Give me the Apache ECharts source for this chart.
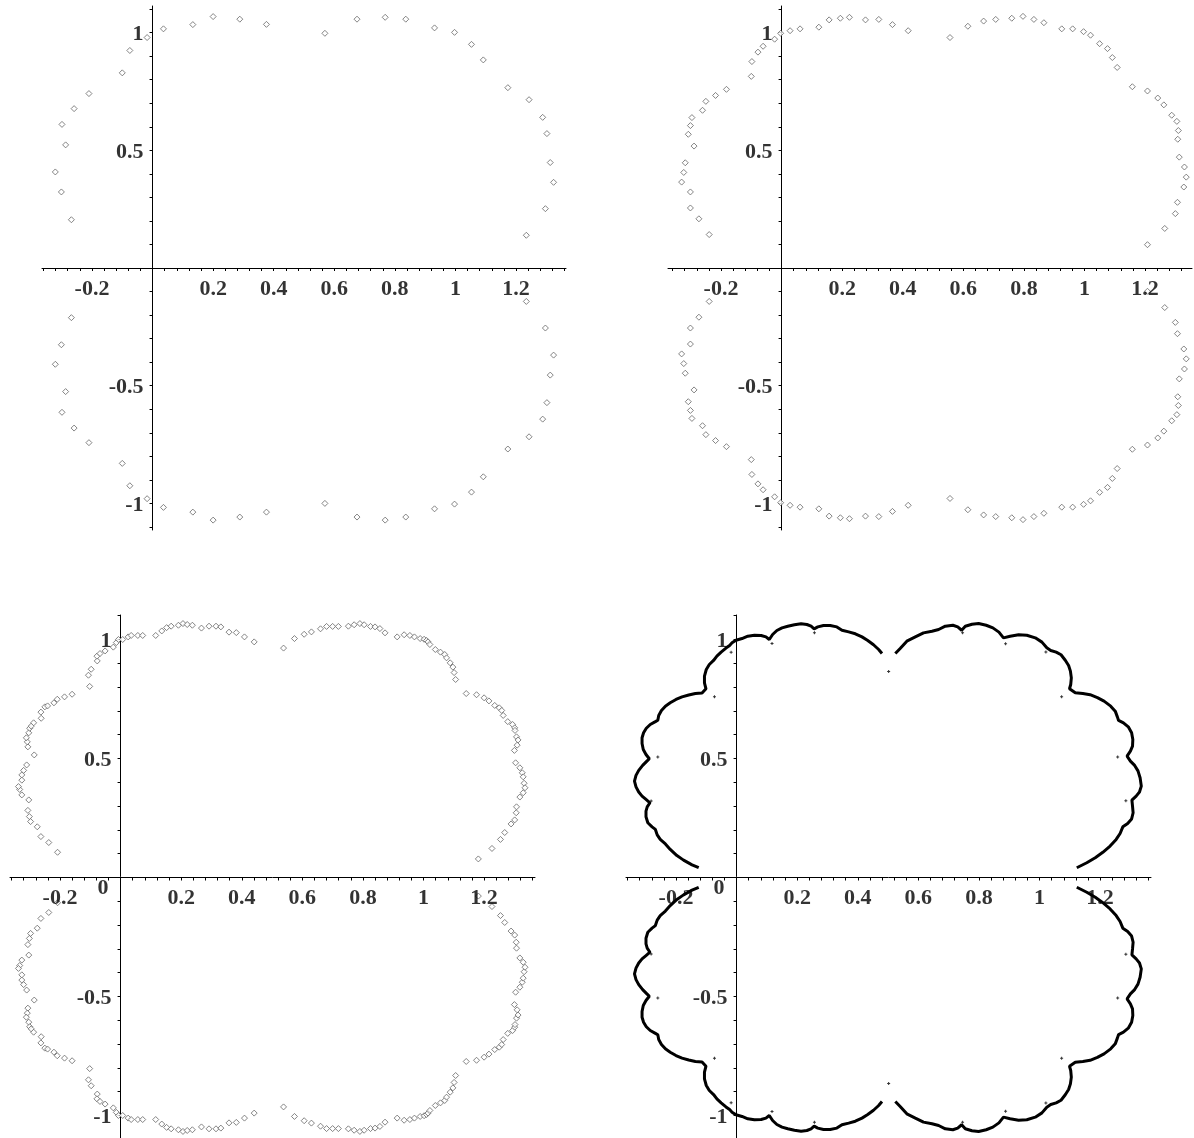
<!DOCTYPE html>
<html><head><meta charset="utf-8">
<script src="https://cdn.jsdelivr.net/npm/echarts@6/dist/echarts.min.js"></script>
<style>html,body{margin:0;padding:0;background:#fff}#c{width:1194px;height:1138px}</style>
</head><body><div id="c"></div>
<script>
// ---- tick labels ----
const xLabelVals = [-0.2, 0.2, 0.4, 0.6, 0.8, 1, 1.2];
const yLabelVals = [-1, -0.5, 0.5, 1];

// ---- panel 1 (coarse points) ----
const p1Upper = [[-0.268,0.205],[-0.301,0.323],[-0.321,0.408],[-0.287,0.523],[-0.299,0.610],[-0.259,0.677],[-0.210,0.741],[-0.100,0.829],[-0.075,0.924],[-0.018,0.979],[0.036,1.016],[0.133,1.034],[0.200,1.068],[0.288,1.057],[0.376,1.035],[0.569,0.997],[0.675,1.057],[0.768,1.065],[0.836,1.057],[0.931,1.020],[0.997,1.001],[1.053,0.950],[1.092,0.884],[1.173,0.766],[1.243,0.715],[1.288,0.640],[1.302,0.571],[1.313,0.448],[1.324,0.364],[1.297,0.252],[1.234,0.139]];
const p1Lower = [[-0.268,-0.211],[-0.301,-0.326],[-0.321,-0.409],[-0.287,-0.525],[-0.299,-0.613],[-0.259,-0.680],[-0.210,-0.742],[-0.100,-0.830],[-0.075,-0.925],[-0.018,-0.980],[0.036,-1.017],[0.133,-1.037],[0.200,-1.071],[0.288,-1.058],[0.376,-1.037],[0.569,-1.000],[0.675,-1.058],[0.768,-1.071],[0.836,-1.058],[0.931,-1.023],[0.997,-1.003],[1.053,-0.952],[1.092,-0.887],[1.173,-0.769],[1.243,-0.717],[1.288,-0.642],[1.302,-0.572],[1.313,-0.455],[1.324,-0.370],[1.297,-0.255],[1.234,-0.142]];

// ---- panel 2 ----
const p2Upper = [[-0.239,0.142],[-0.273,0.209],[-0.301,0.255],[-0.301,0.323],[-0.330,0.365],[-0.323,0.406],[-0.318,0.447],[-0.289,0.518],[-0.308,0.568],[-0.301,0.605],[-0.296,0.639],[-0.261,0.670],[-0.250,0.708],[-0.218,0.733],[-0.182,0.759],[-0.100,0.814],[-0.098,0.877],[-0.078,0.917],[-0.061,0.942],[-0.023,0.972],[-0.003,0.997],[0.028,1.008],[0.061,1.016],[0.123,1.023],[0.157,1.054],[0.194,1.061],[0.224,1.065],[0.277,1.054],[0.321,1.056],[0.366,1.034],[0.418,1.008],[0.556,0.979],[0.615,1.027],[0.667,1.049],[0.707,1.056],[0.760,1.061],[0.797,1.069],[0.833,1.056],[0.866,1.042],[0.925,1.016],[0.961,1.016],[0.997,1.004],[1.020,0.989],[1.050,0.953],[1.076,0.932],[1.092,0.894],[1.108,0.852],[1.158,0.770],[1.208,0.752],[1.242,0.722],[1.262,0.693],[1.288,0.649],[1.305,0.623],[1.310,0.584],[1.308,0.547],[1.313,0.471],[1.330,0.429],[1.336,0.386],[1.328,0.344],[1.307,0.279],[1.300,0.231],[1.265,0.168],[1.208,0.099]];
const p2Lower = [[-0.239,-0.142],[-0.273,-0.209],[-0.301,-0.255],[-0.301,-0.323],[-0.330,-0.365],[-0.323,-0.406],[-0.318,-0.447],[-0.289,-0.518],[-0.308,-0.568],[-0.301,-0.605],[-0.296,-0.639],[-0.261,-0.670],[-0.250,-0.708],[-0.218,-0.733],[-0.182,-0.759],[-0.100,-0.814],[-0.098,-0.877],[-0.078,-0.917],[-0.061,-0.942],[-0.023,-0.972],[-0.003,-0.997],[0.028,-1.008],[0.061,-1.016],[0.123,-1.023],[0.157,-1.054],[0.194,-1.061],[0.224,-1.065],[0.277,-1.054],[0.321,-1.056],[0.366,-1.034],[0.418,-1.008],[0.556,-0.979],[0.615,-1.027],[0.667,-1.049],[0.707,-1.056],[0.760,-1.061],[0.797,-1.069],[0.833,-1.056],[0.866,-1.042],[0.925,-1.016],[0.961,-1.016],[0.997,-1.004],[1.020,-0.989],[1.050,-0.953],[1.076,-0.932],[1.092,-0.894],[1.108,-0.852],[1.158,-0.770],[1.208,-0.752],[1.242,-0.722],[1.262,-0.693],[1.288,-0.649],[1.305,-0.623],[1.310,-0.584],[1.308,-0.547],[1.313,-0.471],[1.330,-0.429],[1.336,-0.386],[1.328,-0.344],[1.307,-0.279],[1.300,-0.231],[1.265,-0.168],[1.208,-0.099]];

// ---- panel 3 ----
const p3Upper = [[-0.208,0.106],[-0.237,0.147],[-0.263,0.172],[-0.275,0.213],[-0.297,0.235],[-0.301,0.256],[-0.306,0.282],[-0.303,0.326],[-0.326,0.347],[-0.333,0.370],[-0.337,0.382],[-0.326,0.409],[-0.326,0.431],[-0.320,0.450],[-0.310,0.473],[-0.285,0.515],[-0.306,0.549],[-0.308,0.570],[-0.311,0.587],[-0.303,0.608],[-0.300,0.627],[-0.295,0.636],[-0.287,0.650],[-0.262,0.669],[-0.263,0.695],[-0.250,0.717],[-0.241,0.721],[-0.220,0.734],[-0.209,0.749],[-0.185,0.759],[-0.160,0.770],[-0.102,0.803],[-0.106,0.850],[-0.097,0.875],[-0.077,0.910],[-0.078,0.930],[-0.068,0.941],[-0.051,0.952],[-0.024,0.968],[-0.014,0.987],[-0.007,1.000],[0.007,1.000],[0.025,1.011],[0.035,1.017],[0.057,1.017],[0.073,1.017],[0.116,1.017],[0.136,1.036],[0.152,1.050],[0.167,1.056],[0.191,1.060],[0.206,1.067],[0.220,1.063],[0.237,1.060],[0.267,1.048],[0.292,1.056],[0.315,1.056],[0.331,1.053],[0.358,1.031],[0.382,1.029],[0.409,1.011],[0.441,0.990],[0.538,0.964],[0.574,1.004],[0.606,1.022],[0.630,1.032],[0.660,1.045],[0.680,1.055],[0.700,1.055],[0.719,1.055],[0.752,1.056],[0.771,1.062],[0.790,1.067],[0.804,1.062],[0.825,1.055],[0.840,1.053],[0.856,1.046],[0.873,1.028],[0.913,1.011],[0.936,1.020],[0.955,1.017],[0.970,1.011],[0.989,1.004],[1.002,1.001],[1.010,0.996],[1.015,0.990],[1.021,0.979],[1.039,0.958],[1.056,0.947],[1.070,0.937],[1.076,0.923],[1.088,0.902],[1.097,0.884],[1.101,0.861],[1.106,0.832],[1.141,0.773],[1.175,0.768],[1.200,0.755],[1.216,0.742],[1.235,0.723],[1.250,0.713],[1.258,0.702],[1.263,0.681],[1.278,0.655],[1.294,0.643],[1.301,0.629],[1.302,0.618],[1.307,0.591],[1.312,0.578],[1.309,0.556],[1.300,0.534],[1.304,0.482],[1.318,0.461],[1.326,0.440],[1.329,0.423],[1.332,0.396],[1.335,0.377],[1.329,0.356],[1.318,0.338],[1.307,0.297],[1.306,0.272],[1.301,0.242],[1.289,0.225],[1.268,0.189],[1.254,0.160],[1.226,0.122],[1.181,0.078]];
const p3Lower = [[-0.208,-0.106],[-0.237,-0.147],[-0.263,-0.172],[-0.275,-0.213],[-0.297,-0.235],[-0.301,-0.256],[-0.306,-0.282],[-0.303,-0.326],[-0.326,-0.347],[-0.333,-0.370],[-0.337,-0.382],[-0.326,-0.409],[-0.326,-0.431],[-0.320,-0.450],[-0.310,-0.473],[-0.285,-0.515],[-0.306,-0.549],[-0.308,-0.570],[-0.311,-0.587],[-0.303,-0.608],[-0.300,-0.627],[-0.295,-0.636],[-0.287,-0.650],[-0.262,-0.669],[-0.263,-0.695],[-0.250,-0.717],[-0.241,-0.721],[-0.220,-0.734],[-0.209,-0.749],[-0.185,-0.759],[-0.160,-0.770],[-0.102,-0.803],[-0.106,-0.850],[-0.097,-0.875],[-0.077,-0.910],[-0.078,-0.930],[-0.068,-0.941],[-0.051,-0.952],[-0.024,-0.968],[-0.014,-0.987],[-0.007,-1.000],[0.007,-1.000],[0.025,-1.011],[0.035,-1.017],[0.057,-1.017],[0.073,-1.017],[0.116,-1.017],[0.136,-1.036],[0.152,-1.050],[0.167,-1.056],[0.191,-1.060],[0.206,-1.067],[0.220,-1.063],[0.237,-1.060],[0.267,-1.048],[0.292,-1.056],[0.315,-1.056],[0.331,-1.053],[0.358,-1.031],[0.382,-1.029],[0.409,-1.011],[0.441,-0.990],[0.538,-0.964],[0.574,-1.004],[0.606,-1.022],[0.630,-1.032],[0.660,-1.045],[0.680,-1.055],[0.700,-1.055],[0.719,-1.055],[0.752,-1.056],[0.771,-1.062],[0.790,-1.067],[0.804,-1.062],[0.825,-1.055],[0.840,-1.053],[0.856,-1.046],[0.873,-1.028],[0.913,-1.011],[0.936,-1.020],[0.955,-1.017],[0.970,-1.011],[0.989,-1.004],[1.002,-1.001],[1.010,-0.996],[1.015,-0.990],[1.021,-0.979],[1.039,-0.958],[1.056,-0.947],[1.070,-0.937],[1.076,-0.923],[1.088,-0.902],[1.097,-0.884],[1.101,-0.861],[1.106,-0.832],[1.141,-0.773],[1.175,-0.768],[1.200,-0.755],[1.216,-0.742],[1.235,-0.723],[1.250,-0.713],[1.258,-0.702],[1.263,-0.681],[1.278,-0.655],[1.294,-0.643],[1.301,-0.629],[1.302,-0.618],[1.307,-0.591],[1.312,-0.578],[1.309,-0.556],[1.300,-0.534],[1.304,-0.482],[1.318,-0.461],[1.326,-0.440],[1.329,-0.423],[1.332,-0.396],[1.335,-0.377],[1.329,-0.356],[1.318,-0.338],[1.307,-0.297],[1.306,-0.272],[1.301,-0.242],[1.289,-0.225],[1.268,-0.189],[1.254,-0.160],[1.226,-0.122],[1.181,-0.078]];

// ---- panel 4 (dense boundary traced as arcs + isolated cusp points) ----
const p4UpperLeft = [[-0.125,0.041],[-0.147,0.053],[-0.175,0.073],[-0.197,0.092],[-0.219,0.118],[-0.235,0.141],[-0.252,0.160],[-0.262,0.179],[-0.268,0.202],[-0.279,0.213],[-0.293,0.230],[-0.299,0.255],[-0.299,0.279],[-0.295,0.297],[-0.286,0.314],[-0.299,0.328],[-0.312,0.342],[-0.323,0.359],[-0.332,0.381],[-0.337,0.405],[-0.332,0.429],[-0.323,0.450],[-0.310,0.471],[-0.296,0.489],[-0.288,0.499],[-0.299,0.517],[-0.308,0.538],[-0.312,0.563],[-0.312,0.587],[-0.307,0.608],[-0.298,0.627],[-0.285,0.643],[-0.268,0.655],[-0.260,0.661],[-0.257,0.681],[-0.248,0.702],[-0.235,0.720],[-0.219,0.734],[-0.200,0.748],[-0.180,0.759],[-0.158,0.767],[-0.136,0.773],[-0.114,0.775],[-0.101,0.793],[-0.106,0.818],[-0.106,0.846],[-0.100,0.874],[-0.090,0.895],[-0.076,0.912],[-0.065,0.930],[-0.051,0.947],[-0.035,0.964],[-0.023,0.975],[-0.015,0.986],[-0.002,0.997],[0.018,1.004],[0.037,1.014],[0.059,1.018],[0.081,1.017],[0.097,1.011],[0.108,1.000],[0.119,1.021],[0.133,1.038],[0.150,1.049],[0.169,1.056],[0.191,1.062],[0.213,1.066],[0.232,1.063],[0.246,1.056],[0.256,1.045],[0.268,1.053],[0.287,1.059],[0.309,1.059],[0.331,1.053],[0.348,1.039],[0.370,1.032],[0.392,1.024],[0.414,1.011],[0.433,0.996],[0.452,0.978],[0.469,0.958],[0.480,0.941]];
const p4UpperRight = [[0.524,0.941],[0.540,0.962],[0.562,0.993],[0.590,1.011],[0.617,1.028],[0.645,1.035],[0.667,1.042],[0.689,1.056],[0.714,1.060],[0.730,1.053],[0.743,1.039],[0.755,1.056],[0.777,1.064],[0.799,1.067],[0.824,1.060],[0.846,1.049],[0.866,1.031],[0.881,1.007],[0.903,1.014],[0.931,1.020],[0.958,1.018],[0.986,1.007],[1.008,0.989],[1.024,0.965],[1.037,0.954],[1.055,0.947],[1.071,0.936],[1.085,0.913],[1.096,0.891],[1.102,0.867],[1.105,0.839],[1.103,0.811],[1.099,0.793],[1.118,0.776],[1.143,0.773],[1.167,0.768],[1.191,0.756],[1.213,0.741],[1.235,0.720],[1.250,0.699],[1.257,0.675],[1.261,0.660],[1.277,0.650],[1.293,0.633],[1.304,0.608],[1.308,0.580],[1.307,0.552],[1.300,0.531],[1.289,0.510],[1.300,0.489],[1.314,0.471],[1.325,0.448],[1.332,0.419],[1.336,0.384],[1.330,0.359],[1.319,0.342],[1.305,0.325],[1.307,0.300],[1.309,0.272],[1.304,0.246],[1.291,0.227],[1.275,0.213],[1.266,0.185],[1.253,0.160],[1.233,0.132],[1.209,0.106],[1.184,0.083],[1.156,0.062],[1.123,0.041]];
const p4LowerLeft = [[-0.125,-0.041],[-0.147,-0.053],[-0.175,-0.073],[-0.197,-0.092],[-0.219,-0.118],[-0.235,-0.141],[-0.252,-0.160],[-0.262,-0.179],[-0.268,-0.202],[-0.279,-0.213],[-0.293,-0.230],[-0.299,-0.255],[-0.299,-0.279],[-0.295,-0.297],[-0.286,-0.314],[-0.299,-0.328],[-0.312,-0.342],[-0.323,-0.359],[-0.332,-0.381],[-0.337,-0.405],[-0.332,-0.429],[-0.323,-0.450],[-0.310,-0.471],[-0.296,-0.489],[-0.288,-0.499],[-0.299,-0.517],[-0.308,-0.538],[-0.312,-0.563],[-0.312,-0.587],[-0.307,-0.608],[-0.298,-0.627],[-0.285,-0.643],[-0.268,-0.655],[-0.260,-0.661],[-0.257,-0.681],[-0.248,-0.702],[-0.235,-0.720],[-0.219,-0.734],[-0.200,-0.748],[-0.180,-0.759],[-0.158,-0.767],[-0.136,-0.773],[-0.114,-0.775],[-0.101,-0.793],[-0.106,-0.818],[-0.106,-0.846],[-0.100,-0.874],[-0.090,-0.895],[-0.076,-0.912],[-0.065,-0.930],[-0.051,-0.947],[-0.035,-0.964],[-0.023,-0.975],[-0.015,-0.986],[-0.002,-0.997],[0.018,-1.004],[0.037,-1.014],[0.059,-1.018],[0.081,-1.017],[0.097,-1.011],[0.108,-1.000],[0.119,-1.021],[0.133,-1.038],[0.150,-1.049],[0.169,-1.056],[0.191,-1.062],[0.213,-1.066],[0.232,-1.063],[0.246,-1.056],[0.256,-1.045],[0.268,-1.053],[0.287,-1.059],[0.309,-1.059],[0.331,-1.053],[0.348,-1.039],[0.370,-1.032],[0.392,-1.024],[0.414,-1.011],[0.433,-0.996],[0.452,-0.978],[0.469,-0.958],[0.480,-0.941]];
const p4LowerRight = [[0.524,-0.941],[0.540,-0.962],[0.562,-0.993],[0.590,-1.011],[0.617,-1.028],[0.645,-1.035],[0.667,-1.042],[0.689,-1.056],[0.714,-1.060],[0.730,-1.053],[0.743,-1.039],[0.755,-1.056],[0.777,-1.064],[0.799,-1.067],[0.824,-1.060],[0.846,-1.049],[0.866,-1.031],[0.881,-1.007],[0.903,-1.014],[0.931,-1.020],[0.958,-1.018],[0.986,-1.007],[1.008,-0.989],[1.024,-0.965],[1.037,-0.954],[1.055,-0.947],[1.071,-0.936],[1.085,-0.913],[1.096,-0.891],[1.102,-0.867],[1.105,-0.839],[1.103,-0.811],[1.099,-0.793],[1.118,-0.776],[1.143,-0.773],[1.167,-0.768],[1.191,-0.756],[1.213,-0.741],[1.235,-0.720],[1.250,-0.699],[1.257,-0.675],[1.261,-0.660],[1.277,-0.650],[1.293,-0.633],[1.304,-0.608],[1.308,-0.580],[1.307,-0.552],[1.300,-0.531],[1.289,-0.510],[1.300,-0.489],[1.314,-0.471],[1.325,-0.448],[1.332,-0.419],[1.336,-0.384],[1.330,-0.359],[1.319,-0.342],[1.305,-0.325],[1.307,-0.300],[1.309,-0.272],[1.304,-0.246],[1.291,-0.227],[1.275,-0.213],[1.266,-0.185],[1.253,-0.160],[1.233,-0.132],[1.209,-0.106],[1.184,-0.083],[1.156,-0.062],[1.123,-0.041]];
const p4Isolated = [[-0.282,0.321],[-0.260,0.506],[-0.073,0.759],[-0.018,0.947],[0.117,0.983],[0.257,1.028],[0.502,0.866],[0.746,1.028],[0.888,0.982],[1.021,0.948],[1.073,0.759],[1.258,0.506],[1.285,0.322],[-0.282,-0.321],[-0.260,-0.506],[-0.073,-0.759],[-0.018,-0.947],[0.117,-0.983],[0.257,-1.028],[0.502,-0.866],[0.746,-1.028],[0.888,-0.982],[1.021,-0.948],[1.073,-0.759],[1.258,-0.506],[1.285,-0.322]];

// ---- axis helpers ----
const xTickVals = []; for (let i = -9; i <= 34; i++) xTickVals.push(+(i * 0.04).toFixed(2));
const yTickVals = []; for (let i = -11; i <= 11; i++) yTickVals.push(+(i * 0.1).toFixed(1));
const FONT = '"Liberation Serif", "Times New Roman", serif';
const fmt = v => String(Math.round(v * 10) / 10);
const labelFont = {fontFamily:FONT, fontWeight:'bold', fontSize:22, color:'#000'};
function mkX(gi, min, max) {
  return {type:'value', gridIndex:gi, min:min, max:max,
    axisLine:{show:true, onZero:true, lineStyle:{color:'#000', width:1}},
    axisTick:{show:true, customValues:xTickVals, length:3, lineStyle:{color:'#000', width:1}},
    axisLabel:{show:false}, splitLine:{show:false}};
}
function mkY(gi, min, max) {
  return {type:'value', gridIndex:gi, min:min, max:max,
    axisLine:{show:true, onZero:true, lineStyle:{color:'#000', width:1}},
    axisTick:{show:true, customValues:yTickVals, length:3, lineStyle:{color:'#000', width:1}},
    axisLabel:{show:false}, splitLine:{show:false}};
}
function sc(gi, data) {
  return {type:'scatter', xAxisIndex:gi, yAxisIndex:gi, data:data, symbol:'diamond', symbolSize:6,
    itemStyle:{color:'#fff', borderColor:'#666', borderWidth:1}, silent:true};
}
function ln(gi, data) {
  return {type:'line', xAxisIndex:gi, yAxisIndex:gi, data:data, showSymbol:false, symbol:'none',
    lineStyle:{color:'#000', width:3}, silent:true};
}
// tick labels placed at the axis crossing (axes through the origin)
function xLabels(gi) {
  return {type:'scatter', xAxisIndex:gi, yAxisIndex:gi, data:xLabelVals.map(v => [v, 0]), symbolSize:0, silent:true,
    itemStyle:{color:'rgba(0,0,0,0)'},
    label:Object.assign({show:true, position:'bottom', distance:10, formatter:p => fmt(p.value[0])}, labelFont)};
}
function yLabels(gi) {
  return {type:'scatter', xAxisIndex:gi, yAxisIndex:gi, data:yLabelVals.map(v => [0, v]), symbolSize:0, silent:true,
    itemStyle:{color:'rgba(0,0,0,0)'},
    label:Object.assign({show:true, position:'left', distance:9, offset:[0, 2], formatter:p => fmt(p.value[1])}, labelFont)};
}
function zeroLabel(gi) {
  return {type:'scatter', xAxisIndex:gi, yAxisIndex:gi, data:[[0,0]], symbolSize:0, silent:true,
    itemStyle:{color:'rgba(0,0,0,0)'},
    label:Object.assign({show:true, formatter:'0', position:'left', distance:12, offset:[0, 11]}, labelFont)};
}

const chart = echarts.init(document.getElementById('c'), null, {renderer:'canvas'});
const gridBase = {outerBoundsMode:'none', containLabel:false};
chart.setOption({
  animation:false,
  backgroundColor:'#fff',
  grid:[
    Object.assign({left:42, top:6, width:524, height:524}, gridBase),
    Object.assign({left:668, top:6, width:524, height:524}, gridBase),
    Object.assign({left:10, top:615, width:525, height:525}, gridBase),
    Object.assign({left:626, top:615, width:525, height:525}, gridBase)
  ],
  xAxis:[mkX(0,-0.365,1.365), mkX(1,-0.375,1.355), mkX(2,-0.365,1.368), mkX(3,-0.365,1.368)],
  yAxis:[mkY(0,-1.113,1.113), mkY(1,-1.113,1.113), mkY(2,-1.103,1.103), mkY(3,-1.103,1.103)],
  series:[
    sc(0,p1Upper), sc(0,p1Lower), xLabels(0), yLabels(0),
    sc(1,p2Upper), sc(1,p2Lower), xLabels(1), yLabels(1),
    sc(2,p3Upper), sc(2,p3Lower), xLabels(2), yLabels(2), zeroLabel(2),
    ln(3,p4UpperLeft), ln(3,p4UpperRight), ln(3,p4LowerLeft), ln(3,p4LowerRight),
    {type:'scatter', xAxisIndex:3, yAxisIndex:3, data:p4Isolated, symbol:'path://M1,0H2V1H3V2H2V3H1V2H0V1H1Z', symbolSize:3, itemStyle:{color:'#000'}, silent:true},
    xLabels(3), yLabels(3), zeroLabel(3)
  ]
});
</script></body></html>
